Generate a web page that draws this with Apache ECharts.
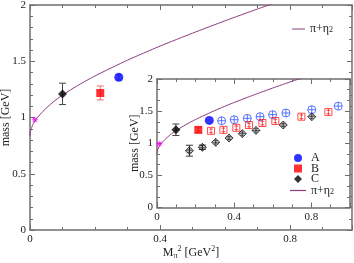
<!DOCTYPE html>
<html>
<head>
<meta charset="utf-8">
<script src="https://cdn.jsdelivr.net/npm/echarts@6/dist/echarts.min.js"></script>
<style>
  html, body { margin: 0; padding: 0; background: #fff; }
  #chart { width: 354px; height: 263px; }
</style>
</head>
<body>
<div id="chart"></div>
<script>
// pi + eta2 curve
var curveX = [0, 0.001, 0.005, 0.01, 0.02, 0.04, 0.07, 0.1, 0.15, 0.2, 0.3, 0.4, 0.5, 0.6, 0.7, 0.75];
var curveY = [0.84, 0.872, 0.91, 0.945, 0.99, 1.055, 1.135, 1.2, 1.29, 1.37, 1.51, 1.635, 1.75, 1.86, 1.965, 2.015];

// main plot points [x, mass, error]
var mainStar = [[0.015, 0.98]];
var mainA = [[0.273, 1.357, 0.024]];
var mainB = [[0.216, 1.218, 0.062]];
var mainC = [[0.10, 1.21, 0.095]];

// inset points
var insetStar = [[0.012, 0.99]];
var insetA = [[0.271, 1.355, 0.02]];
var insetB = [[0.214, 1.208, 0.04]];
var insetC = [[0.098, 1.21, 0.09]];
var openAX = [0.335, 0.40, 0.468, 0.534, 0.599, 0.668, 0.802, 0.939];
var openAY = [1.35, 1.366, 1.388, 1.414, 1.445, 1.471, 1.522, 1.578];
var openBX = [0.28, 0.344, 0.411, 0.477, 0.546, 0.613, 0.748, 0.888];
var openBY = [1.193, 1.208, 1.24, 1.284, 1.315, 1.346, 1.413, 1.486];
var openCX = [0.168, 0.235, 0.304, 0.373, 0.442, 0.513, 0.654, 0.802];
var openCY = [0.884, 0.937, 1.015, 1.082, 1.149, 1.2, 1.284, 1.413];
var openCErr = [0.085, 0.035, 0, 0, 0, 0, 0, 0];

var curveName = 'π+η2';
var purple = '#8e3c7e';
var font = 'Liberation Serif';
var axisGray = '#6e6e6e';

function pairs(xs, ys, es) {
  return xs.map(function (x, i) { return es ? [x, ys[i], es[i]] : [x, ys[i]]; });
}
var curve = pairs(curveX, curveY);

var starPath = 'path://M10,0 L11.53,6.3 L17.07,2.93 L13.7,8.47 L20,10 L13.7,11.53 L17.07,17.07 L11.53,13.7 L10,20 L8.47,13.7 L2.93,17.07 L6.3,11.53 L0,10 L6.3,8.47 L2.93,2.93 L8.47,6.3 Z';
var openCircle = 'path://M0,5 A5,5 0 1,0 10,5 A5,5 0 1,0 0,5 Z M5,0 L5,10 M0,5 L10,5';
var openSquare = 'path://M0,0 L10,0 L10,10 L0,10 Z M5,0 L5,10 M2.5,2.5 L7.5,2.5 M2.5,7.5 L7.5,7.5';
var openDiamond = 'path://M5,0 L10,5 L5,10 L0,5 Z M5,0 L5,10 M0,5 L10,5 M2,3 L8,3 M2,7 L8,7';
var squareIcon = 'path://M0,0 L10,0 L10,10 L0,10 Z';
var diamondIcon = 'path://M5,0 L10,5 L5,10 L0,5 Z';
var lineIcon = 'path://M0,0 L13,0 L13,1 L0,1 Z';

function errorBars(data, xi, yi, color, z) {
  return {
    type: 'custom', xAxisIndex: xi, yAxisIndex: yi, data: data, z: z || 3, silent: true,
    renderItem: function (params, api) {
      var x = api.value(0), y = api.value(1), e = api.value(2);
      if (!e) return;
      var t = api.coord([x, y + e]), b = api.coord([x, y - e]);
      var st = { stroke: color, lineWidth: 1 };
      return { type: 'group', children: [
        { type: 'line', shape: { x1: t[0], y1: t[1], x2: b[0], y2: b[1] }, style: st },
        { type: 'line', shape: { x1: t[0] - 3.5, y1: t[1], x2: t[0] + 3.5, y2: t[1] }, style: st },
        { type: 'line', shape: { x1: b[0] - 3.5, y1: b[1], x2: b[0] + 3.5, y2: b[1] }, style: st }
      ] };
    }
  };
}

function axisBase(extra, split) {
  var a = {
    type: 'value',
    nameMoveOverlap: false,
    axisLine: { show: true, onZero: false, lineStyle: { color: axisGray, width: 1.5 } },
    axisTick: { show: true, inside: true, length: 5, lineStyle: { color: axisGray } },
    minorTick: { show: true, splitNumber: split, length: 3, lineStyle: { color: axisGray } },
    splitLine: { show: false },
    axisLabel: { fontFamily: font, fontSize: 11, color: '#222', margin: 4, showMaxLabel: extra.maxLabel !== false }
  };
  for (var k in extra) if (k !== 'maxLabel') a[k] = extra[k];
  return a;
}
var noLabel = { show: false };

var subRich = {
  a: { fontFamily: font, fontSize: 12, color: '#222' },
  s: { fontFamily: font, fontSize: 8, color: '#222', verticalAlign: 'bottom', padding: [7, 0, 0, 0] },
  p: { fontFamily: font, fontSize: 8, color: '#222', verticalAlign: 'top', padding: [0, 0, 6, 0] }
};
var legendRich = {
  a: { fontFamily: font, fontSize: 12, color: '#222', lineHeight: 10 },
  s: { fontFamily: font, fontSize: 8, color: '#222', lineHeight: 10, verticalAlign: 'bottom', padding: [4, 0, 0, 0] }
};
var nameStyle = { fontFamily: font, fontSize: 12, color: '#222' };
var curveLegend = { name: curveName, icon: lineIcon };

var chart = echarts.init(document.getElementById('chart'));
chart.setOption({
  animation: false,
  backgroundColor: '#fff',
  grid: [
    { left: 30, right: 2, top: 5, bottom: 33, outerBoundsMode: 'none', containLabel: false },
    { left: 157, width: 193, top: 79, bottom: 55.5, outerBoundsMode: 'none', containLabel: false,
      show: true, backgroundColor: '#fff', borderWidth: 0, z: 5 }
  ],
  xAxis: [
    axisBase({ gridIndex: 0, min: 0, max: 0.99, interval: 0.4, maxLabel: false,
      name: '{a|M}{s|π}{p|2}{a| [GeV}{p|2}{a|]}', nameLocation: 'middle', nameGap: 15,
      nameTextStyle: { rich: subRich } }, 4),
    axisBase({ gridIndex: 0, min: 0, max: 0.99, interval: 0.4, position: 'top', axisLabel: noLabel }, 4),
    axisBase({ gridIndex: 1, min: 0, max: 1.0, interval: 0.4, maxLabel: false, z: 6 }, 4),
    axisBase({ gridIndex: 1, min: 0, max: 1.0, interval: 0.4, position: 'top', z: 6, axisLabel: noLabel }, 4)
  ],
  yAxis: [
    axisBase({ gridIndex: 0, min: 0, max: 2, interval: 0.5,
      name: 'mass [GeV]', nameLocation: 'middle', nameGap: 18, nameTextStyle: nameStyle }, 5),
    axisBase({ gridIndex: 0, min: 0, max: 2, interval: 0.5, position: 'right', axisLabel: noLabel }, 5),
    axisBase({ gridIndex: 1, min: 0, max: 2, interval: 0.5, z: 6,
      name: 'mass [GeV]', nameLocation: 'middle', nameGap: 16, nameTextStyle: nameStyle }, 3),
    axisBase({ gridIndex: 1, min: 0, max: 2, interval: 0.5, position: 'right', z: 6, axisLabel: noLabel }, 3)
  ],
  legend: [
    { left: 287, top: 17, itemWidth: 13, itemHeight: 8, z: 10,
      data: [curveLegend],
      formatter: function () { return '{a|π+η}{s|2}'; },
      textStyle: { rich: legendRich } },
    { left: 285, top: 147, orient: 'vertical', itemWidth: 16, itemHeight: 8, itemGap: -1.5, z: 10,
      data: [{ name: 'A', icon: 'circle' }, { name: 'B', icon: squareIcon },
        { name: 'C', icon: diamondIcon }, curveLegend],
      formatter: function (n) { return n === curveName ? '{a|π+η}{s|2}' : '{a|' + n + '}'; },
      textStyle: { rich: legendRich } }
  ],
  series: [
    // main plot
    { name: curveName, type: 'line', xAxisIndex: 0, yAxisIndex: 0, data: curve, symbol: 'none',
      smooth: 0.2, lineStyle: { color: purple, width: 1 }, itemStyle: { color: purple } },
    errorBars(mainC, 0, 0, '#444'),
    errorBars(mainB, 0, 0, '#f26d6d'),
    errorBars(mainA, 0, 0, '#7f8cff'),
    { type: 'scatter', xAxisIndex: 0, yAxisIndex: 0, data: mainStar, symbol: starPath, symbolSize: 8,
      itemStyle: { color: '#ff00ff' } },
    { type: 'scatter', xAxisIndex: 0, yAxisIndex: 0, data: mainC, symbol: 'diamond', symbolSize: 9, z: 4,
      itemStyle: { color: '#000' } },
    { type: 'scatter', xAxisIndex: 0, yAxisIndex: 0, data: mainB, symbol: 'rect', symbolSize: 8, z: 4,
      itemStyle: { color: '#f00' } },
    { type: 'scatter', xAxisIndex: 0, yAxisIndex: 0, data: mainA, symbol: 'circle', symbolSize: 9, z: 4,
      itemStyle: { color: '#0000ff' } },

    // inset
    { name: curveName, type: 'line', xAxisIndex: 2, yAxisIndex: 2, data: curve, symbol: 'none', z: 7,
      smooth: 0.2, lineStyle: { color: purple, width: 1 }, itemStyle: { color: purple } },
    errorBars(insetC, 2, 2, '#444', 7),
    errorBars(insetB, 2, 2, '#f26d6d', 7),
    errorBars(pairs(openCX, openCY, openCErr), 2, 2, '#333', 7),
    { type: 'scatter', xAxisIndex: 2, yAxisIndex: 2, data: insetStar, symbol: starPath, symbolSize: 8, z: 8,
      itemStyle: { color: '#ff00ff' } },
    { type: 'scatter', xAxisIndex: 2, yAxisIndex: 2, data: pairs(openAX, openAY), symbol: openCircle, symbolSize: 8, z: 8,
      itemStyle: { color: 'transparent', borderColor: '#3355ff', borderWidth: 1 } },
    { type: 'scatter', xAxisIndex: 2, yAxisIndex: 2, data: pairs(openBX, openBY), symbol: openSquare, symbolSize: 7, z: 8,
      itemStyle: { color: 'transparent', borderColor: '#ff2020', borderWidth: 1 } },
    { type: 'scatter', xAxisIndex: 2, yAxisIndex: 2, data: pairs(openCX, openCY), symbol: openDiamond, symbolSize: 8, z: 8,
      itemStyle: { color: 'transparent', borderColor: '#222', borderWidth: 1 } },
    { name: 'A', type: 'scatter', xAxisIndex: 2, yAxisIndex: 2, data: insetA, symbol: 'circle', symbolSize: 9, z: 8,
      itemStyle: { color: '#0000ff' } },
    { name: 'B', type: 'scatter', xAxisIndex: 2, yAxisIndex: 2, data: insetB, symbol: 'rect', symbolSize: 8, z: 8,
      itemStyle: { color: '#f00' } },
    { name: 'C', type: 'scatter', xAxisIndex: 2, yAxisIndex: 2, data: insetC, symbol: 'diamond', symbolSize: 9, z: 8,
      itemStyle: { color: '#000' } }
  ]
});
</script>
</body>
</html>
